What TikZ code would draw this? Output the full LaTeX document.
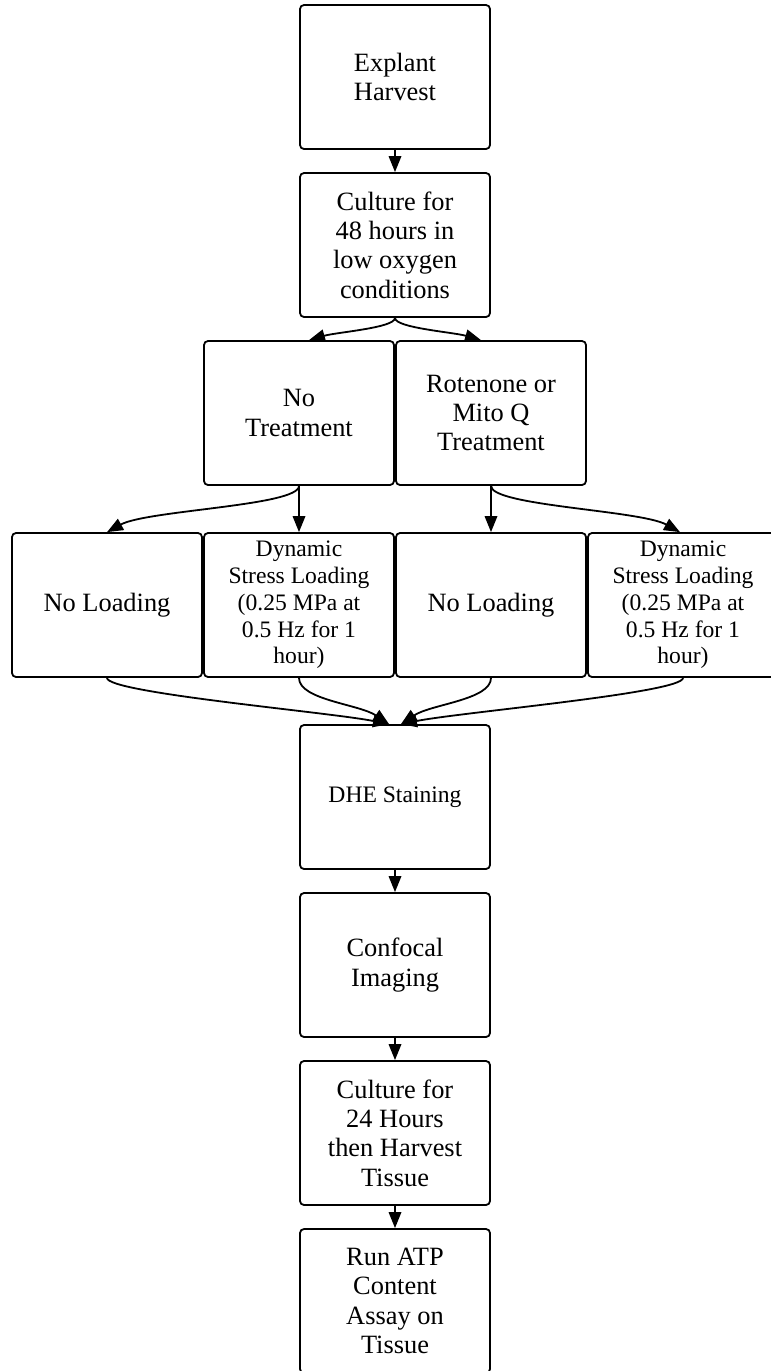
\documentclass[tikz,border=0pt]{standalone}
\usepackage{fontspec}
\setmainfont{Liberation Serif}
\usetikzlibrary{arrows.meta}
\begin{document}
\begin{tikzpicture}[x=1pt,y=-1pt,
  box/.style={draw, line width=1.8pt, rounded corners=4pt, minimum width=190pt,
    minimum height=144pt, inner sep=0pt, align=center,
    font=\fontsize{26.4}{29.3}\selectfont},
  smalltext/.style={font=\fontsize{23.6}{26.7}\selectfont},
  arr/.style={line width=1.8pt, -{Triangle[length=16pt,width=12.5pt]}}]
\fill[white] (0,0) rectangle (771,1371);
\clip (0,0) rectangle (771,1371);
\node[box] (explant) at (395,77) {Explant\\Harvest};
\node[box] (culture) at (395,245) {Culture for\\48 hours in\\low oxygen\\conditions};
\node[box] (notreat) at (299,413) {No\\Treatment};
\node[box] (rotenone) at (491,413) {Rotenone or\\Mito Q\\Treatment};
\node[box] (noload1) at (107,605) {No Loading};
\node[box,smalltext] (dyn1) at (299,605) {Dynamic\\Stress Loading\\(0.25 MPa at\\0.5 Hz for 1\\hour)};
\node[box] (noload2) at (491,605) {No Loading};
\node[box,smalltext] (dyn2) at (683,605) {Dynamic\\Stress Loading\\(0.25 MPa at\\0.5 Hz for 1\\hour)};
\node[box,smalltext] (dhe) at (395,797) {DHE Staining};
\node[box] (confocal) at (395,965) {Confocal\\Imaging};
\node[box] (culture24) at (395,1133) {Culture for\\24 Hours\\then Harvest\\Tissue};
\node[box] (atp) at (395,1301) {Run ATP\\Content\\Assay on\\Tissue};

\draw[arr] (explant.south) -- (culture.north);
\draw[arr] (culture.south) .. controls +(0,10) and +(28,-8) .. ([xshift=10pt]notreat.north);
\draw[arr] (culture.south) .. controls +(0,10) and +(-28,-8) .. ([xshift=-10pt]rotenone.north);
\draw[arr] (notreat.south) -- (dyn1.north);
\draw[arr] (notreat.south) .. controls +(0,20) and +(40,-22) .. (noload1.north);
\draw[arr] (rotenone.south) -- (noload2.north);
\draw[arr] (rotenone.south) .. controls +(0,20) and +(-40,-22) .. ([xshift=-3pt]dyn2.north);
\draw[arr] (noload1.south) .. controls +(0,15) and +(-60,-12) .. ([xshift=-6pt]dhe.north);
\draw[arr] (dyn1.south) .. controls +(0,22) and +(-30,-20) .. ([xshift=-6pt]dhe.north);
\draw[arr] (noload2.south) .. controls +(0,22) and +(30,-20) .. ([xshift=6pt]dhe.north);
\draw[arr] (dyn2.south) .. controls +(0,15) and +(60,-12) .. ([xshift=6pt]dhe.north);
\draw[arr] (dhe.south) -- (confocal.north);
\draw[arr] (confocal.south) -- (culture24.north);
\draw[arr] (culture24.south) -- (atp.north);
\end{tikzpicture}
\end{document}
